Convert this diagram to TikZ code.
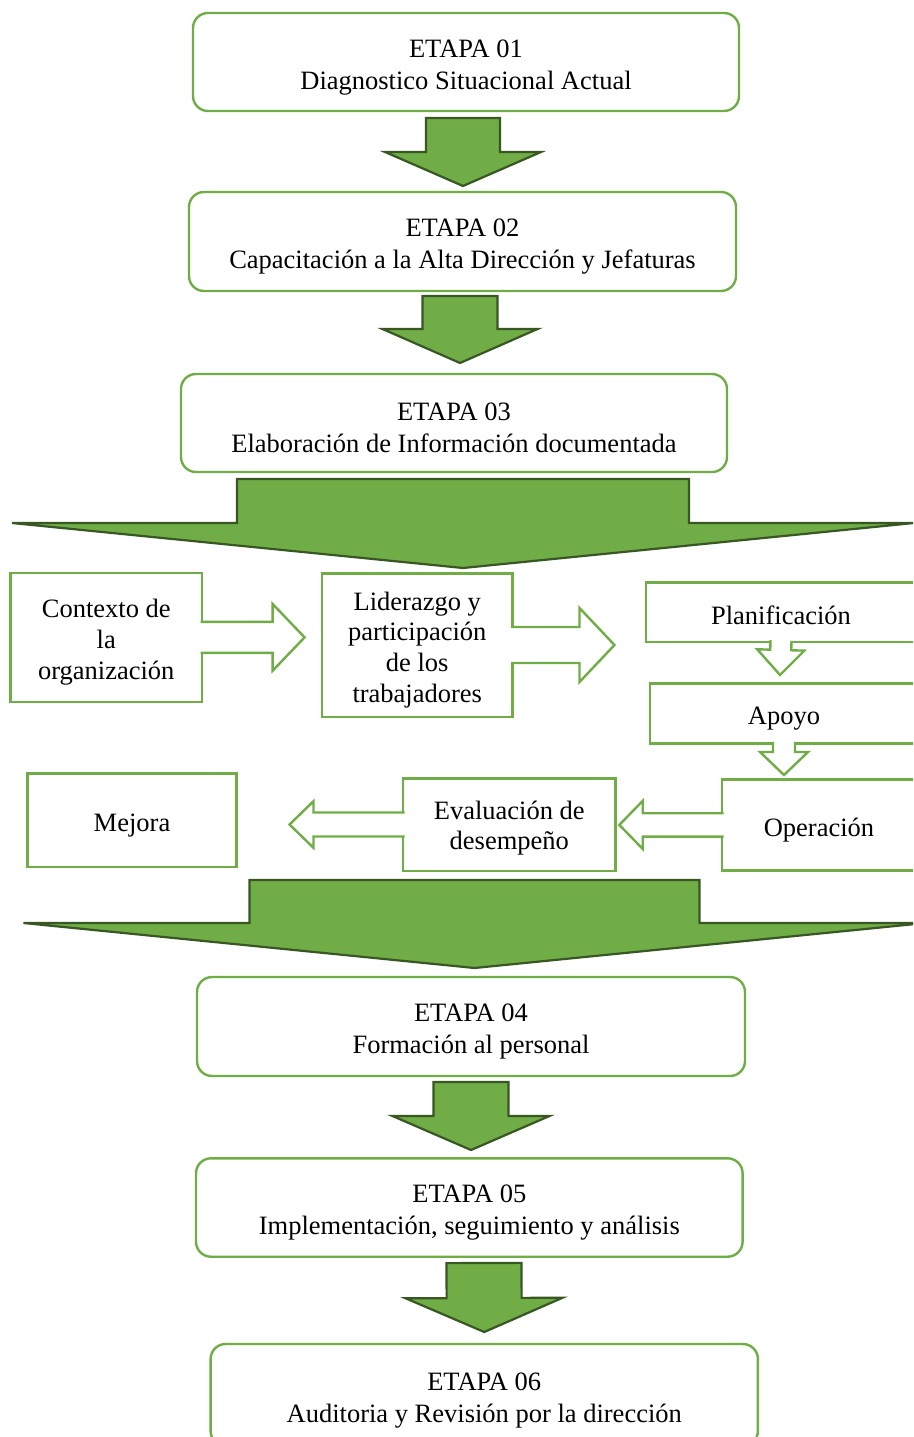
\documentclass[tikz,border=0pt]{standalone}
\usepackage{fontspec}
\setmainfont{Liberation Serif}
\usetikzlibrary{calc}
\definecolor{boxgreen}{HTML}{70AD47}
\definecolor{arrowfill}{HTML}{70AD47}
\definecolor{arrowline}{HTML}{385723}

\tikzset{
  blockarrow/.style n args={3}{to path={
    let \p1=(\tikztostart), \p2=(\tikztotarget),
        \n1={veclen(\x2-\x1,\y2-\y1)},
        \n2={(\x2-\x1)/\n1}, \n3={(\y2-\y1)/\n1} in
    ({\x1-#1*\n3},{\y1+#1*\n2})
    -- ({\x2-#3*\n2-#1*\n3},{\y2-#3*\n3+#1*\n2})
    -- ({\x2-#3*\n2-#2*\n3},{\y2-#3*\n3+#2*\n2})
    -- (\tikztotarget)
    -- ({\x2-#3*\n2+#2*\n3},{\y2-#3*\n3-#2*\n2})
    -- ({\x2-#3*\n2+#1*\n3},{\y2-#3*\n3-#1*\n2})
    -- ({\x1+#1*\n3},{\y1-#1*\n2})}},
  etapa/.style={draw=boxgreen, line width=2.4pt, rounded corners=15pt, fill=white,
    outer sep=0pt, inner sep=0pt, align=center, font=\fontsize{26.5}{32}\selectfont,
    text height=60pt},
  paso/.style={draw=boxgreen, line width=2.4pt, fill=white,
    outer sep=0pt, inner sep=0pt, align=center, font=\fontsize{26.5}{30.7}\selectfont,
    text height=28.5pt},
  greenarrow/.style={fill=arrowfill, draw=arrowline, line width=2.2pt},
  hollowarrow/.style={fill=white, draw=boxgreen, line width=2.4pt},
}

\begin{document}
\begin{tikzpicture}[x=1pt,y=1pt,yscale=-1,xscale=1]
\path[use as bounding box, clip] (0,0) rectangle (913,1437);

% Text Node
\node[etapa, minimum width=546pt, minimum height=98pt] (e1) at (466,62) {ETAPA 01\\Diagnostico Situacional Actual};
% Text Node
\node[etapa, minimum width=547pt, minimum height=99pt] (e2) at (462.5,241.5) {ETAPA 02\\Capacitación a la Alta Dirección y Jefaturas};
% Text Node
\node[etapa, minimum width=546pt, minimum height=98pt] (e3) at (454,423) {ETAPA 03\\Elaboración de Información documentada};
% Text Node
\node[paso, minimum width=191.5pt, minimum height=128.7pt, text height=89.5pt] (ctx) at (106.25,637.35) {Contexto de\\la\\organización};
% Text Node
\node[paso, minimum width=190.5pt, minimum height=143.4pt, text height=120.2pt] (lid) at (417.25,645) {Liderazgo y\\participación\\de los\\trabajadores};
% Text Node
\node[paso, minimum width=270pt, minimum height=59.3pt, text height=24.5pt] (pla) at (781,612.3) {Planificación};
% Text Node
\node[paso, minimum width=268pt, minimum height=60pt] (apo) at (784,713.3) {Apoyo};
% Text Node
\node[paso, minimum width=209pt, minimum height=93.4pt] (mej) at (132,820) {Mejora};
% Text Node
\node[paso, minimum width=212.6pt, minimum height=92.4pt, text height=56.3pt] (eva) at (509.3,824.5) {Evaluación de\\desempeño};
% Text Node
\node[paso, minimum width=194pt, minimum height=91pt] (op) at (819,824.9) {Operación};
% Text Node
\node[etapa, minimum width=548pt, minimum height=99pt] (e4) at (471,1026.5) {ETAPA 04\\Formación al personal};
% Text Node
\node[etapa, minimum width=546.6pt, minimum height=98.4pt] (e5) at (469.3,1207.5) {ETAPA 05\\Implementación, seguimiento y análisis};
% Text Node
\node[etapa, minimum width=547.3pt, minimum height=102pt] (e6) at (484.25,1395) {ETAPA 06\\Auditoria y Revisión por la dirección};

% Connection
\draw[greenarrow, blockarrow={37}{78}{34}] ($(e1.south)+(-3,7)$) to ($(e2.north)+(0.5,-6)$) -- cycle;
% Connection
\draw[greenarrow, blockarrow={37.5}{77.5}{34}] ($(e2.south)+(-2.5,5)$) to ($(e3.north)+(6,-11)$) -- cycle;
% Connection
\draw[greenarrow, blockarrow={226}{451}{45}] ($(e3.south)+(9,7)$) to ($(e3.south)+(9,96)$) -- cycle;
% Connection
\draw[greenarrow, blockarrow={225}{451}{45}] ($(e4.north)+(3.5,-97)$) to ($(e4.north)+(3.5,-9)$) -- cycle;
% Connection
\draw[greenarrow, blockarrow={37.5}{78.5}{34}] ($(e4.south)+(0,6)$) to ($(e5.north)+(1.7,-8.3)$) -- cycle;
% Connection
\draw[greenarrow, blockarrow={37.5}{78.5}{34}] ($(e5.south)+(14.7,6.3)$) to ($(e6.north)+(0,-12)$) -- cycle;

% Connection
\draw[hollowarrow, blockarrow={15.5}{33.4}{32}] ($(ctx.east)+(-1.5,0)$) to ($(ctx.east)+(102.6,0)$);
% Connection
\draw[hollowarrow, blockarrow={18}{37}{35}] ($(lid.east)+(-1.5,0)$) to ($(lid.east)+(102,0)$);
% Connection
\draw[hollowarrow, blockarrow={10.5}{23.6}{25}] ($(pla.south)+(0,-1.5)$) to ($(pla.south)+(-1,33)$);
% Connection
\draw[hollowarrow, blockarrow={11}{24}{23}] ($(apo.south)+(0,-1.5)$) to ($(apo.south)+(0,31.7)$);
% Connection
\draw[hollowarrow, blockarrow={11.7}{24}{23.4}] ($(op.west)+(1.5,0)$) to ($(op.west)+(-102.7,0)$);
% Connection
\draw[hollowarrow, blockarrow={12}{23.3}{24}] ($(eva.west)+(1.5,0)$) to ($(eva.west)+(-113.5,0)$);

\end{tikzpicture}
\end{document}
